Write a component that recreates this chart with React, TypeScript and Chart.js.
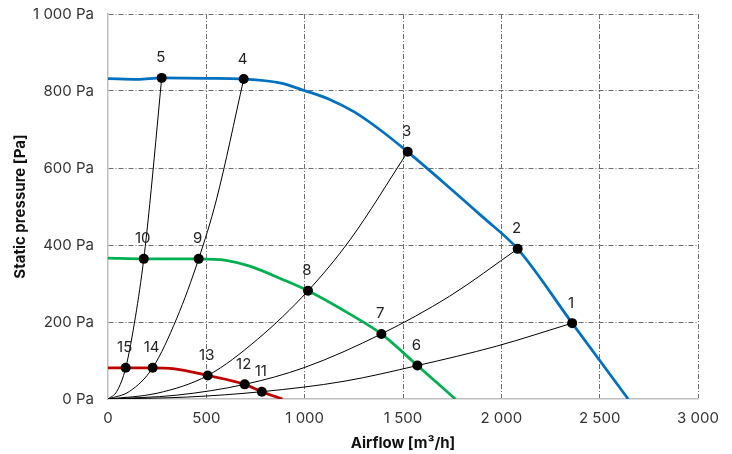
import { useEffect, useRef } from 'react';
import { Chart, registerables } from 'chart.js';

Chart.register(...registerables);

// Fan curves (airflow m³/h, static pressure Pa)
const blueQ = [0, 150, 273, 500, 690, 873, 1000, 1127, 1254, 1381, 1524, 1700, 1900, 2083, 2360, 2645];
const blueP = [832, 830, 834, 833, 831, 821, 801, 778, 745, 700, 642, 565, 475, 390, 197, 0];
const greenQ = [0, 182, 461, 600, 720, 890, 1017, 1228, 1390, 1573, 1766];
const greenP = [366, 364, 364, 360, 345, 310, 281, 221, 169, 87, 0];
const redQ = [0, 90, 227, 330, 507, 695, 782, 887];
const redP = [81, 81, 81, 79, 61, 38, 19, 0];

// System curves
const sys1Q = [0, 400, 782, 1200, 1574, 1974, 2360];
const sys1P = [0, 5, 19, 46, 87, 137, 197];
const sys2Q = [0, 350, 695, 1000, 1390, 1737, 2083];
const sys2P = [0, 10, 38, 82, 169, 267, 390];
const sys3Q = [0, 250, 507, 760, 1017, 1230, 1524];
const sys3P = [0, 15, 61, 155, 281, 413, 642];
const sys4Q = [0, 110, 227, 350, 461, 551, 690];
const sys4P = [0, 20, 81, 210, 364, 517, 831];
const sys5Q = [0, 45, 90, 140, 182, 212, 273];
const sys5P = [0, 20, 81, 215, 364, 505, 834];

// Operating points
const pointQ = [2360, 2083, 1524, 690, 273, 1573, 1390, 1017, 461, 182, 782, 695, 507, 227, 90];
const pointP = [197, 390, 642, 831, 834, 87, 169, 281, 364, 364, 19, 38, 61, 81, 81];
const pointLabels = ['1', '2', '3', '4', '5', '6', '7', '8', '9', '10', '11', '12', '13', '14', '15'];

// Axes
const xMin = 0, xMax = 3000, xStep = 500;
const yMin = 0, yMax = 1000, yStep = 200;
const xTitle = 'Airflow [m³/h]';
const yTitle = 'Static pressure [Pa]';
const yUnit = 'Pa';

const FONT = 'Inter, "DejaVu Sans", sans-serif';

const fmt = (v: number) => {
  if (v >= 1000) return `${Math.floor(v / 1000)} ${String(v % 1000).padStart(3, '0')}`;
  return String(v);
};

const toXY = (q: number[], p: number[]) => q.map((x, i) => ({ x, y: p[i] }));

const labelPlugin = {
  id: 'pointLabels',
  afterDatasetsDraw(chart: any) {
    const meta = chart.getDatasetMeta(0);
    const ctx = chart.ctx;
    ctx.save();
    ctx.font = `15px ${FONT}`;
    ctx.fillStyle = '#222';
    ctx.textAlign = 'center';
    ctx.textBaseline = 'middle';
    meta.data.forEach((el: any, i: number) => {
      ctx.fillText(pointLabels[i], el.x - 1, el.y - 20);
    });
    ctx.restore();
  },
};

export default function App() {
  const ref = useRef<HTMLCanvasElement>(null);
  useEffect(() => {
    const curve = (q: number[], p: number[], color: string, width: number) => ({
      data: toXY(q, p),
      showLine: true,
      borderColor: color,
      backgroundColor: color,
      borderWidth: width,
      pointRadius: 0,
      cubicInterpolationMode: 'monotone' as const,
      fill: false,
    });
    const gridColor = (min: number) => (c: any) =>
      c.tick && c.tick.value === min ? 'rgba(0,0,0,0)' : '#6e6e6e';
    const chart = new Chart(ref.current!, {
      type: 'scatter',
      data: {
        datasets: [
          {
            data: toXY(pointQ, pointP),
            showLine: false,
            pointRadius: 5,
            pointBackgroundColor: '#000',
            pointBorderColor: '#000',
            pointBorderWidth: 0,
            backgroundColor: '#000',
          },
          curve(blueQ, blueP, '#0070c0', 2.75),
          curve(greenQ, greenP, '#00b050', 2.75),
          curve(redQ, redP, '#c00000', 2.75),
          curve(sys1Q, sys1P, '#000', 1),
          curve(sys2Q, sys2P, '#000', 1),
          curve(sys3Q, sys3P, '#000', 1),
          curve(sys4Q, sys4P, '#000', 1),
          curve(sys5Q, sys5P, '#000', 1),
        ] as any,
      },
      options: {
        animation: false,
        responsive: true,
        maintainAspectRatio: false,
        layout: { padding: { top: 14, right: 34, left: 0, bottom: 0 } },
        plugins: { legend: { display: false }, tooltip: { enabled: false } },
        scales: {
          x: {
            type: 'linear',
            min: xMin,
            max: xMax,
            afterFit: (s: any) => { s.height = 55; },
            ticks: {
              stepSize: xStep,
              padding: 10,
              color: '#333',
              font: { family: FONT, size: 15 },
              callback: (v: any) => fmt(Number(v)),
            },
            grid: {
              drawTicks: false,
              lineWidth: 1,
              color: gridColor(xMin),
            },
            border: { display: true, color: '#bfbfbf', width: 1.5, dash: [5, 2, 1, 2] },
            title: {
              display: true,
              text: xTitle,
              color: '#111',
              font: { family: FONT, size: 15, weight: 'bold' },
              padding: { top: 0, bottom: 2 },
            },
          },
          y: {
            type: 'linear',
            min: yMin,
            max: yMax,
            afterFit: (s: any) => { s.width = 108; },
            ticks: {
              stepSize: yStep,
              padding: 0,
              color: '#333',
              font: { family: FONT, size: 15 },
              callback: (v: any) => `${fmt(Number(v))} ${yUnit}`,
            },
            grid: {
              drawTicks: true,
              tickLength: 14,
              tickColor: 'rgba(0,0,0,0)',
              lineWidth: 1,
              color: gridColor(yMin),
            },
            border: { display: true, color: '#bfbfbf', width: 1.5, dash: [5, 2, 1, 2] },
            title: {
              display: true,
              text: yTitle,
              color: '#111',
              font: { family: FONT, size: 15, weight: 'bold' },
              padding: { top: 11, bottom: 0 },
            },
          },
        },
      } as any,
      plugins: [labelPlugin],
    });
    return () => chart.destroy();
  }, []);
  return (
    <div style={{ position: 'fixed', left: 0, top: 0, width: 732, height: 454, background: '#fff' }}>
      <canvas ref={ref} />
    </div>
  );
}
